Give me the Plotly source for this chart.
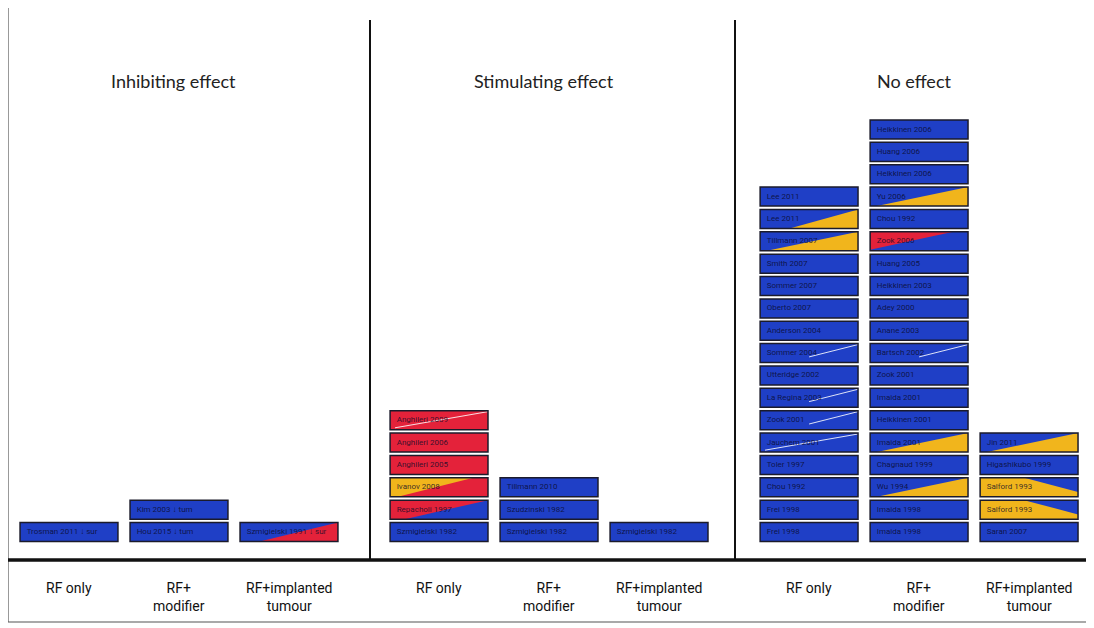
import plotly.graph_objects as go

titles = ["Inhibiting effect", "Stimulating effect", "No effect"]
categories = ["RF only", "RF+<br>modifier", "RF+implanted<br>tumour"]

# studies in each column, listed bottom to top: (label, fill pattern)
inhib_rf = [("Trosman 2011 ↓ sur", "B")]
inhib_mod = [("Hou 2015 ↓ tum", "B"), ("Kim 2003 ↓ tum", "B")]
inhib_imp = [("Szmigielski 1991 ↓ sur", "B/R")]

stim_rf = [("Szmigielski 1982", "B"), ("Repacholi 1997", "R/B"), ("Ivanov 2008", "Y/R"),
           ("Anghileri 2005", "R"), ("Anghileri 2006", "R"), ("Anghileri 2009", "R=")]
stim_mod = [("Szmigielski 1982", "B"), ("Szudzinski 1982", "B"), ("Tillmann 2010", "B")]
stim_imp = [("Szmigielski 1982", "B")]

none_rf = [("Frei 1998", "B"), ("Frei 1998", "B"), ("Chou 1992", "B"), ("Toler 1997", "B"),
           ("Jauchem 2001", "B="), ("Zook 2001", "B-"), ("La Regina 2003", "B-"),
           ("Utteridge 2002", "B"), ("Sommer 2004", "B-"), ("Anderson 2004", "B"),
           ("Oberto 2007", "B"), ("Sommer 2007", "B"), ("Smith 2007", "B"),
           ("Tillmann 2007", "B/y"), ("Lee 2011", "B/Y"), ("Lee 2011", "B")]
none_mod = [("Imaida 1998", "B"), ("Imaida 1998", "B"), ("Wu 1994", "B/y"),
            ("Chagnaud 1999", "B"), ("Imaida 2001", "B/y"), ("Heikkinen 2001", "B"),
            ("Imaida 2001", "B"), ("Zook 2001", "B"), ("Bartsch 2002", "B-"),
            ("Anane 2003", "B"), ("Adey 2000", "B"), ("Heikkinen 2003", "B"),
            ("Huang 2005", "B"), ("Zook 2006", "B\\R"), ("Chou 1992", "B"),
            ("Yu 2006", "B/y"), ("Heikkinen 2006", "B"), ("Huang 2006", "B"),
            ("Heikkinen 2006", "B")]
none_imp = [("Saran 2007", "B"), ("Salford 1993", "Y/B"), ("Salford 1993", "Y/B"),
            ("Higashikubo 1999", "B"), ("Jin 2011", "B/y")]

columns = [[inhib_rf, inhib_mod, inhib_imp],
           [stim_rf, stim_mod, stim_imp],
           [none_rf, none_mod, none_imp]]

BLUE, RED, YELLOW = "#1f3fc6", "#e4223a", "#f1b51c"
patterns = {
    "B": (BLUE, None, None),
    "R": (RED, None, None),
    "B/Y": (BLUE, YELLOW, [(0.3, 0), (1, 0), (1, 1)]),
    "B/y": (BLUE, YELLOW, [(0.07, 0), (1, 0), (1, 1)]),
    "B/R": (BLUE, RED, [(0.2, 0), (1, 0), (1, 1)]),
    "R/B": (RED, BLUE, [(0.15, 0), (1, 0), (1, 1)]),
    "Y/R": (YELLOW, RED, [(0.08, 0), (1, 0), (1, 1), (0.85, 1)]),
    "Y/B": (YELLOW, BLUE, [(0.45, 1), (1, 1), (1, 0.25)]),
    "B\\R": (BLUE, RED, [(0, 0.05), (0, 1), (0.85, 1)]),
    "B-": (BLUE, "line", [(0.5, 0.3), (1, 0.95)]),
    "B=": (BLUE, "line", [(0.05, 0.1), (1, 0.95)]),
    "R=": (RED, "line", [(0.05, 0.1), (1, 0.95)]),
}

GROUP = 3.364   # group spacing in column units
HALF_W = 0.445  # half box width
BOX_H = 0.85    # box height in row units
OFF = 8         # page margin around the plot div

shapes = []
tx, ty, tt = [], [], []
for g, group in enumerate(columns):
    for c, col in enumerate(group):
        xc = g * GROUP + c
        x0, x1 = xc - HALF_W, xc + HALF_W
        for i, (label, pat) in enumerate(col):
            y0, y1 = i, i + BOX_H
            base, over, pts = patterns[pat]
            shapes.append(dict(type="rect", xref="x", yref="y", x0=x0, x1=x1, y0=y0, y1=y1,
                               fillcolor=base, line=dict(width=0), layer="below"))
            if over == "line":
                (ax, ay), (bx, by) = pts
                shapes.append(dict(type="line", xref="x", yref="y",
                                   x0=x0 + ax * (x1 - x0), y0=y0 + ay * BOX_H,
                                   x1=x0 + bx * (x1 - x0), y1=y0 + by * BOX_H,
                                   line=dict(color="rgba(255,255,255,0.85)", width=1),
                                   layer="below"))
            elif over:
                path = "M " + " L ".join(f"{x0 + px * (x1 - x0):.4f},{y0 + py * BOX_H:.4f}"
                                         for px, py in pts) + " Z"
                shapes.append(dict(type="path", xref="x", yref="y", path=path,
                                   fillcolor=over, line=dict(width=0), layer="below"))
            shapes.append(dict(type="rect", xref="x", yref="y", x0=x0, x1=x1, y0=y0, y1=y1,
                               fillcolor="rgba(0,0,0,0)",
                               line=dict(color="#1b1b2b", width=1.5), layer="below"))
            tx.append(x0 + 0.06)
            ty.append(y0 + BOX_H / 2)
            tt.append(label)


# frame, group dividers and baseline (paper coordinates)
def px(x):
    return (x - OFF) / 1094


def py(y):
    return 1 - (y - OFF) / 628


shapes.append(dict(type="rect", xref="paper", yref="paper", x0=px(8), x1=px(1088),
                   y0=py(622), y1=py(6), line=dict(color="#555", width=1.2)))
for xd in (370, 735):
    shapes.append(dict(type="line", xref="paper", yref="paper", x0=px(xd), x1=px(xd),
                       y0=py(560), y1=py(20), line=dict(color="#111", width=2)))
shapes.append(dict(type="line", xref="paper", yref="paper", x0=px(8), x1=px(1088),
                   y0=py(560), y1=py(560), line=dict(color="#111", width=3.5)))

annotations = []
for g, t in enumerate(titles):
    annotations.append(dict(x=g * GROUP + 0.95, y=py(68), xref="x", yref="paper", text=t,
                            showarrow=False, font=dict(family="Lato, Carlito, sans-serif",
                                                       size=18, color="#222")))
    for c, cat in enumerate(categories):
        annotations.append(dict(x=g * GROUP + c, y=py(578), xref="x", yref="paper", text=cat,
                                yanchor="top", showarrow=False,
                                font=dict(family="Liberation Sans Narrow, Roboto, sans-serif",
                                          size=14, color="#111")))

fig = go.Figure(go.Scatter(x=tx, y=ty, text=tt, mode="text", textposition="middle right",
                           textfont=dict(family="Liberation Sans Narrow, Roboto, sans-serif",
                                         size=8, color="rgba(10,10,40,0.8)"),
                           hoverinfo="text", showlegend=False))

P = 22.36
X0 = 69 - OFF
Y0 = 541.5 - OFF
fig.update_layout(width=1094, height=628, margin=dict(l=0, r=0, t=0, b=0),
                  paper_bgcolor="white", plot_bgcolor="white",
                  shapes=shapes, annotations=annotations,
                  xaxis=dict(range=[-X0 / 110, (1094 - X0) / 110], visible=False),
                  yaxis=dict(range=[-(628 - Y0) / P, Y0 / P], visible=False))
fig.write_html("out.html")
